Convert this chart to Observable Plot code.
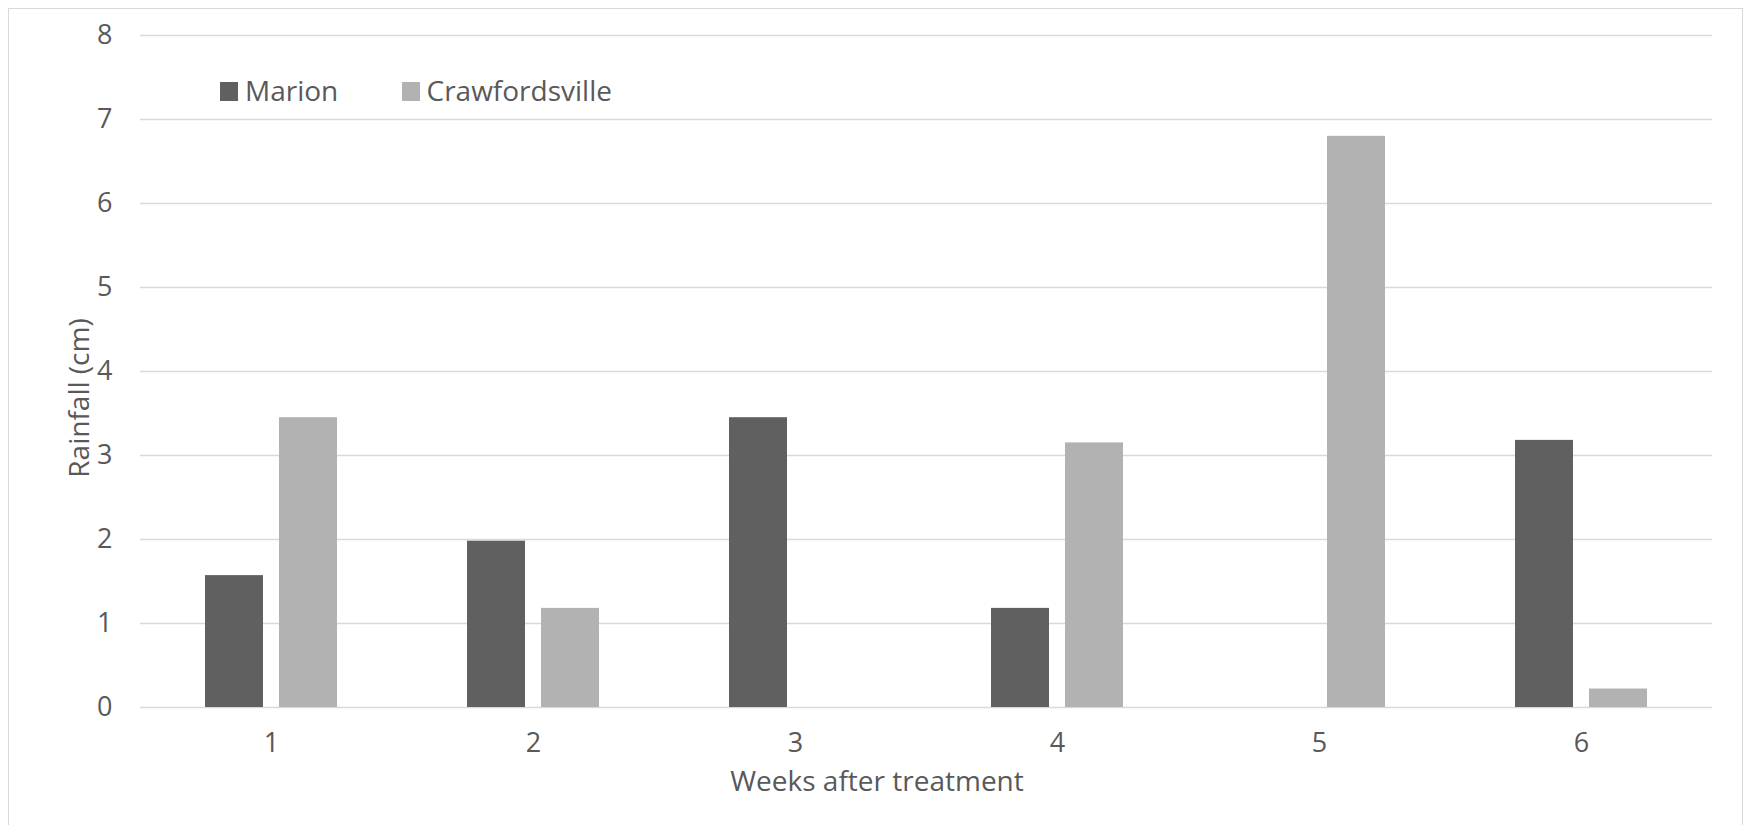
<!DOCTYPE html>
<html>
<head>
<meta charset="utf-8">
<script src="https://cdn.jsdelivr.net/npm/d3@7"></script>
<script src="https://cdn.jsdelivr.net/npm/@observablehq/plot@0.6"></script>
<style>
  body { margin: 0; background: #fff; font-family: "Open Sans", sans-serif; color: #595959; }
  #chart { position: relative; width: 1743px; height: 825px; overflow: hidden; background: #fff; }
  #chart svg { position: absolute; left: 0; top: 0; }
  .frame { position: absolute; left: 8px; top: 8px; width: 1735px; height: 900px; box-sizing: border-box;
           border: 1.3px solid #d9d9d9; pointer-events: none; }
  .txt { position: absolute; font-size: 28px; line-height: 28px; white-space: nowrap; color: #595959; }
  .swatch { position: absolute; width: 18px; height: 19px; }
</style>
</head>
<body>
<div id="chart"></div>
<script>
// Weekly rainfall (cm) at two sites
const weeks = [1, 2, 3, 4, 5, 6];
const sites = ["Marion", "Crawfordsville"];
const marion = [1.57, 1.98, 3.45, 1.18, 0, 3.18];
const crawfordsville = [3.45, 1.18, 0, 3.15, 6.80, 0.22];
const siteColors = ["#606060", "#b2b2b2"];
const yTicks = [0, 1, 2, 3, 4, 5, 6, 7, 8];
const xTitle = "Weeks after treatment";
const yTitle = "Rainfall (cm)";

const rows = weeks.flatMap((w, i) => [
  {week: w, site: sites[0], rain: marion[i]},
  {week: w, site: sites[1], rain: crawfordsville[i]}
]);

const chart = Plot.plot({
  width: 1743,
  height: 825,
  marginLeft: 138,
  marginRight: 30,
  marginTop: 35,
  marginBottom: 118,
  style: {fontFamily: '"Open Sans", sans-serif', fontSize: "27px", color: "#595959", background: "transparent", overflow: "visible"},
  fx: {domain: weeks, padding: 0, label: null, tickSize: 0, tickPadding: 25},
  x: {domain: sites, paddingInner: 0.2187, paddingOuter: 0.859, axis: null},
  y: {domain: [0, 8], ticks: yTicks, tickSize: 0, tickPadding: 28, label: null},
  color: {domain: sites, range: siteColors},
  marks: [
    Plot.ruleY(yTicks, {stroke: "#d9d9d9", strokeWidth: 1.3}),
    Plot.barY(rows, {fx: "week", x: "site", y: "rain", fill: "site"})
  ]
});

const root = document.getElementById("chart");
root.appendChild(chart);

// outer chart border
const frame = document.createElement("div");
frame.className = "frame";
root.appendChild(frame);

// legend
const legendItems = [
  {label: sites[0], color: siteColors[0], sx: 220, tx: 245},
  {label: sites[1], color: siteColors[1], sx: 402, tx: 426.5}
];
for (const item of legendItems) {
  const sw = document.createElement("div");
  sw.className = "swatch";
  sw.style.left = item.sx + "px";
  sw.style.top = "82px";
  sw.style.background = item.color;
  root.appendChild(sw);
  const t = document.createElement("div");
  t.className = "txt";
  t.style.left = item.tx + "px";
  t.style.top = "76px";
  t.textContent = item.label;
  root.appendChild(t);
}

// axis titles
const xt = document.createElement("div");
xt.className = "txt";
xt.style.left = "877px";
xt.style.top = "766px";
xt.style.transform = "translateX(-50%)";
xt.textContent = xTitle;
root.appendChild(xt);

const yt = document.createElement("div");
yt.className = "txt";
yt.style.left = "78px";
yt.style.top = "398px";
yt.style.transform = "translate(-50%, -50%) rotate(-90deg)";
yt.textContent = yTitle;
root.appendChild(yt);
</script>
</body>
</html>
